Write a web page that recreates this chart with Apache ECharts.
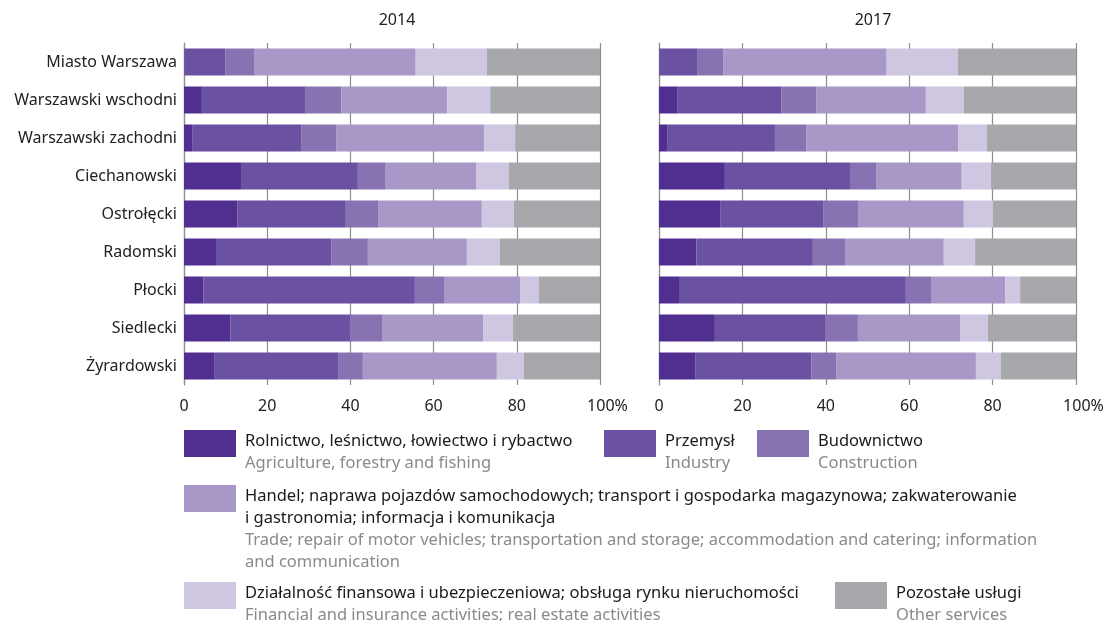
<!DOCTYPE html>
<html lang="pl">
<head>
  <meta charset="UTF-8">
  <title>Struktura pracujących</title>
  <script src="https://cdn.jsdelivr.net/npm/echarts@6.0.0/dist/echarts.min.js"></script>
  <style>
    html, body { margin: 0; padding: 0; background: #fff; }
    #chart { width: 1107px; height: 621px; }
  </style>
</head>
<body>
<div id="chart"></div>
<script>
  // dane
  var regions = ['Miasto Warszawa', 'Warszawski wschodni', 'Warszawski zachodni', 'Ciechanowski',
    'Ostrołęcki', 'Radomski', 'Płocki', 'Siedlecki', 'Żyrardowski'];
  var years = ['2014', '2017'];
  var xTicks = [0, 20, 40, 60, 80, 100];

  var sectorsPl = ['Rolnictwo, leśnictwo, łowiectwo i rybactwo', 'Przemysł', 'Budownictwo',
    'Handel; naprawa pojazdów samochodowych; transport i gospodarka magazynowa; zakwaterowanie\ni gastronomia; informacja i komunikacja',
    'Działalność finansowa i ubezpieczeniowa; obsługa rynku nieruchomości', 'Pozostałe usługi'];
  var sectorsEn = ['Agriculture, forestry and fishing', 'Industry', 'Construction',
    'Trade; repair of motor vehicles; transportation and storage; accommodation and catering; information\nand communication',
    'Financial and insurance activities; real estate activities', 'Other services'];

  // 2014
  var agri2014 = [0.1, 4.3, 2.1, 13.9, 12.9, 7.9, 4.7, 11.2, 7.4];
  var industry2014 = [9.9, 24.8, 26.2, 27.9, 26.0, 27.6, 50.8, 28.7, 29.8];
  var construction2014 = [7.0, 8.7, 8.4, 6.7, 7.9, 8.7, 7.0, 7.7, 5.8];
  var trade2014 = [38.7, 25.5, 35.4, 21.7, 24.8, 23.8, 18.3, 24.3, 32.2];
  var finance2014 = [17.1, 10.3, 7.5, 7.9, 7.7, 7.9, 4.5, 7.2, 6.5];
  var other2014 = [27.2, 26.4, 20.4, 21.9, 20.7, 24.1, 14.7, 20.9, 18.3];

  // 2017
  var agri2017 = [0.1, 4.5, 2.1, 15.8, 14.8, 9.0, 5.0, 13.4, 8.8];
  var industry2017 = [9.2, 24.9, 25.7, 30.0, 24.7, 27.9, 54.2, 26.6, 27.8];
  var construction2017 = [6.2, 8.4, 7.6, 6.4, 8.4, 7.7, 6.2, 7.7, 6.0];
  var trade2017 = [39.1, 26.2, 36.3, 20.4, 25.2, 23.7, 17.6, 24.5, 33.4];
  var finance2017 = [17.1, 9.1, 6.9, 7.0, 7.0, 7.5, 3.6, 6.7, 6.0];
  var other2017 = [28.3, 26.9, 21.4, 20.4, 19.9, 24.2, 13.4, 21.1, 18.0];

  var colors = ['#512f91', '#6b51a1', '#8873b2', '#a898c7', '#cfc6e1', '#a7a8ab'];
  var data2014 = [agri2014, industry2014, construction2014, trade2014, finance2014, other2014];
  var data2017 = [agri2017, industry2017, construction2017, trade2017, finance2017, other2017];

  var FONT = '"Noto Sans", sans-serif';
  var chart = echarts.init(document.getElementById('chart'));

  function xAxisFor(idx) {
    return {
      type: 'value', gridIndex: idx, min: 0, max: 100, interval: 20,
      axisLine: { show: false }, axisTick: { show: false },
      splitLine: { lineStyle: { color: '#8e8e8e', width: 1.2 } },
      axisLabel: {
        margin: 13, fontSize: 16, color: '#222', fontFamily: FONT,
        formatter: function (v) {
          return v === xTicks[xTicks.length - 1] ? '{p|' + v + '%}' : String(v);
        },
        rich: { p: { padding: [0, 0, 0, 15], fontSize: 16, color: '#222', fontFamily: FONT } }
      }
    };
  }
  function yAxisFor(idx, showLabels) {
    return {
      type: 'category', gridIndex: idx, data: regions, inverse: true,
      axisLine: { show: true, lineStyle: { color: '#8e8e8e', width: 1.2 } },
      axisTick: { show: false },
      axisLabel: { show: showLabels, margin: 7, fontSize: 16, color: '#222', fontFamily: FONT }
    };
  }

  var series = [];
  [data2014, data2017].forEach(function (set, gi) {
    set.forEach(function (vals, si) {
      series.push({
        name: sectorsEn[si], type: 'bar', stack: 'y' + gi,
        xAxisIndex: gi, yAxisIndex: gi, data: vals,
        barWidth: 27, itemStyle: { color: colors[si] },
        emphasis: { disabled: true }, animation: false
      });
    });
  });

  // legenda jako grafika
  var legendPos = [
    [184, 430], [604, 430], [757, 430],
    [184, 485], [184, 582], [835, 582]
  ];
  var graphics = [];
  legendPos.forEach(function (p, i) {
    graphics.push({ type: 'rect', left: p[0], top: p[1], shape: { width: 52, height: 27 }, style: { fill: colors[i] } });
    var plLines = sectorsPl[i].split('\n').length;
    graphics.push({ type: 'text', left: p[0] + 61, top: p[1],
      style: { text: sectorsPl[i], fill: '#1a1a1a', font: '16.5px ' + FONT, lineHeight: 22 } });
    graphics.push({ type: 'text', left: p[0] + 61, top: p[1] + plLines * 22,
      style: { text: sectorsEn[i], fill: '#8a8a8a', font: '16.5px ' + FONT, lineHeight: 22 } });
  });

  var option = {
    animation: false,
    title: [
      { text: years[0], left: 392, top: 7, textAlign: 'center', textStyle: { fontSize: 16, fontWeight: 'normal', color: '#222', fontFamily: FONT } },
      { text: years[1], left: 868, top: 7, textAlign: 'center', textStyle: { fontSize: 16, fontWeight: 'normal', color: '#222', fontFamily: FONT } }
    ],
    grid: [
      { left: 184, right: 507, top: 43, bottom: 236 },
      { left: 659, right: 31, top: 43, bottom: 236 }
    ],
    xAxis: [xAxisFor(0), xAxisFor(1)],
    yAxis: [yAxisFor(0, true), yAxisFor(1, false)],
    series: series,
    graphic: graphics
  };
  chart.setOption(option);
</script>
</body>
</html>
